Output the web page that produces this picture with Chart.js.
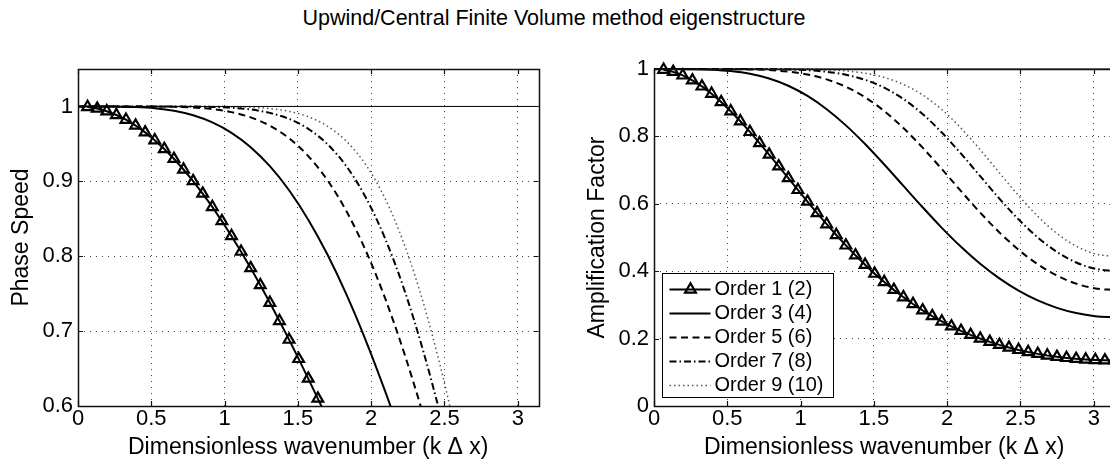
<!DOCTYPE html>
<html>
<head>
<meta charset="utf-8">
<script src="https://cdn.jsdelivr.net/npm/chart.js@4.4.1/dist/chart.umd.min.js"></script>
<style>
  html, body { margin: 0; padding: 0; background: #fff; overflow: hidden; }
  body { width: 1110px; height: 461px; position: relative; }
  #title { position: absolute; left: 0; top: 5px; width: 1108px; text-align: center;
           font: 21.5px 'Liberation Sans', Arial, Helvetica, sans-serif; line-height: 26px; color: #000; }
  canvas { position: absolute; top: 0; }
  #phase { left: 0; }
  #amp { left: 575px; }
</style>
</head>
<body>
<div id="title">Upwind/Central Finite Volume method eigenstructure</div>
<canvas id="phase" width="560" height="461"></canvas>
<canvas id="amp" width="560" height="461"></canvas>
<script>
'use strict';

const FONT = "'Liberation Sans', Arial, Helvetica, sans-serif";

// Wavenumbers (k dx) where the order 1 markers sit
const thetaMarked = [0.0654, 0.1309, 0.1963, 0.2618, 0.3272, 0.3927, 0.4581, 0.5236, 0.5890, 0.6545,
  0.7199, 0.7854, 0.8508, 0.9163, 0.9817, 1.0472, 1.1126, 1.1781, 1.2435, 1.3090, 1.3744, 1.4399,
  1.5053, 1.5708, 1.6362, 1.7017, 1.7671, 1.8326, 1.8980, 1.9635, 2.0289, 2.0944, 2.1598, 2.2253,
  2.2907, 2.3562, 2.4216, 2.4871, 2.5525, 2.6180, 2.6834, 2.7489, 2.8143, 2.8798, 2.9452, 3.0107,
  3.0761, 3.1416];

// Wavenumbers for the higher order curves
const thetaCoarse = [0, 0.1309, 0.2618, 0.3927, 0.5236, 0.6545, 0.7854, 0.9163, 1.0472, 1.1781,
  1.3090, 1.4399, 1.5708, 1.7017, 1.8326, 1.9635, 2.0944, 2.2253, 2.3562, 2.4871, 2.6180, 2.7489,
  2.8798, 3.0107, 3.1416];

// Exact reference line
const xEnds = [0, 3.1416];
const exactLine = [1, 1];

// Phase speed
const phase1 = [0.9993, 0.9972, 0.9936, 0.9886, 0.9823, 0.9745, 0.9654, 0.9549, 0.9432, 0.9301,
  0.9158, 0.9003, 0.8836, 0.8658, 0.8469, 0.8270, 0.8061, 0.7842, 0.7615, 0.7379, 0.7136, 0.6886,
  0.6629, 0.6366, 0.6099, 0.5826, 0.5550, 0.5271, 0.4989, 0.4705, 0.4420, 0.4135, 0.3850, 0.3565,
  0.3282, 0.3001, 0.2723, 0.2448, 0.2177, 0.1910, 0.1648, 0.1392, 0.1142, 0.0899, 0.0662, 0.0434,
  0.0213, 0];
const phase3 = [1, 1.0000, 0.9998, 0.9992, 0.9976, 0.9942, 0.9882, 0.9787, 0.9648, 0.9456, 0.9202,
  0.8881, 0.8488, 0.8022, 0.7483, 0.6874, 0.6202, 0.5477, 0.4709, 0.3911, 0.3098, 0.2285, 0.1488,
  0.0721, 0];
const phase5 = [1, 1, 1.0000, 1.0000, 0.9999, 0.9995, 0.9985, 0.9964, 0.9924, 0.9854, 0.9743,
  0.9575, 0.9337, 0.9015, 0.8596, 0.8073, 0.7443, 0.6707, 0.5875, 0.4961, 0.3985, 0.2972, 0.1951,
  0.0951, 0];
const phase7 = [1, 1, 1, 1, 1.0000, 0.9999, 0.9998, 0.9994, 0.9983, 0.9960, 0.9914, 0.9834, 0.9701,
  0.9496, 0.9197, 0.8784, 0.8240, 0.7556, 0.6728, 0.5767, 0.4694, 0.3538, 0.2341, 0.1146, 0];
const phase9 = [1, 1, 1, 1, 1, 1.0000, 1.0000, 0.9999, 0.9996, 0.9989, 0.9971, 0.9934, 0.9863,
  0.9737, 0.9533, 0.9221, 0.8772, 0.8162, 0.7375, 0.6410, 0.5282, 0.4023, 0.2682, 0.1319, 0];

// Amplification factor
const amp1 = [0.9979, 0.9915, 0.9810, 0.9665, 0.9483, 0.9267, 0.9020, 0.8746, 0.8449, 0.8133,
  0.7802, 0.7461, 0.7113, 0.6762, 0.6412, 0.6065, 0.5725, 0.5394, 0.5074, 0.4766, 0.4471, 0.4192,
  0.3927, 0.3679, 0.3446, 0.3229, 0.3027, 0.2840, 0.2668, 0.2509, 0.2364, 0.2231, 0.2111, 0.2001,
  0.1903, 0.1814, 0.1735, 0.1664, 0.1602, 0.1547, 0.1500, 0.1460, 0.1427, 0.1400, 0.1380, 0.1365,
  0.1356, 0.1353];
const amp3 = [1, 1.0000, 0.9996, 0.9981, 0.9940, 0.9859, 0.9718, 0.9503, 0.9200, 0.8807, 0.8327,
  0.7773, 0.7165, 0.6531, 0.5897, 0.5287, 0.4724, 0.4220, 0.3786, 0.3423, 0.3133, 0.2912, 0.2757,
  0.2666, 0.2636];
const amp5 = [1, 1, 1.0000, 0.9999, 0.9997, 0.9988, 0.9967, 0.9921, 0.9835, 0.9691, 0.9472, 0.9161,
  0.8752, 0.8248, 0.7665, 0.7030, 0.6376, 0.5740, 0.5151, 0.4635, 0.4205, 0.3870, 0.3631, 0.3489,
  0.3442];
const amp7 = [1, 1, 1, 1, 1.0000, 0.9999, 0.9996, 0.9987, 0.9964, 0.9917, 0.9829, 0.9679, 0.9445,
  0.9109, 0.8663, 0.8115, 0.7488, 0.6820, 0.6155, 0.5537, 0.5002, 0.4571, 0.4259, 0.4071, 0.4008];
const amp9 = [1, 1, 1, 1, 1, 1.0000, 1.0000, 0.9998, 0.9992, 0.9977, 0.9943, 0.9875, 0.9749,
  0.9542, 0.9229, 0.8796, 0.8246, 0.7606, 0.6920, 0.6243, 0.5629, 0.5120, 0.4744, 0.4514, 0.4437];

// Legend labels and tick values
const seriesLabels = ['Order 1 (2)', 'Order 3 (4)', 'Order 5 (6)', 'Order 7 (8)', 'Order 9 (10)'];
const waveTicks = [0, 0.5, 1, 1.5, 2, 2.5, 3];
const phaseTicks = [0.6, 0.7, 0.8, 0.9, 1];
const ampTicks = [0, 0.2, 0.4, 0.6, 0.8, 1];

// Line styles, one per order
const lineStyles = [
  { dash: [], width: 2, color: '#000' },
  { dash: [], width: 2, color: '#000' },
  { dash: [7, 4.5], width: 2, color: '#000' },
  { dash: [7, 3, 1.5, 3], width: 2, color: '#000' },
  { dash: [1.5, 3], width: 1.5, color: '#555' }
];

const pts = (xs, ys) => xs.map((x, i) => ({ x: x, y: ys[i] }));

function buildDatasets(xs1, ys1, ysRest, clip) {
  const sets = [{
    data: pts(xEnds, exactLine),
    borderColor: '#000', borderWidth: 1, pointRadius: 0, clip: clip
  }];
  const series = [ys1].concat(ysRest);
  series.forEach((ys, i) => {
    const st = lineStyles[i];
    const marked = i === 0;
    sets.push({
      label: seriesLabels[i],
      data: pts(marked ? xs1 : thetaCoarse, ys),
      borderColor: st.color,
      borderWidth: st.width,
      borderDash: st.dash,
      cubicInterpolationMode: marked ? 'default' : 'monotone',
      tension: 0,
      pointRadius: marked ? 6.2 : 0,
      pointStyle: 'triangle',
      pointBorderWidth: 2.2,
      pointBorderColor: '#000',
      pointBackgroundColor: 'rgba(0,0,0,0)',
      clip: clip
    });
  });
  return sets;
}

// Box round the axes plus tick marks pointing inwards
const axesBox = {
  id: 'axesBox',
  afterDraw(chart) {
    const { ctx, chartArea: a, scales } = chart;
    ctx.save();
    ctx.setLineDash([]);
    ctx.strokeStyle = '#111';
    ctx.lineWidth = 1.2;
    ctx.beginPath();
    scales.x.ticks.forEach(t => {
      const px = Math.round(scales.x.getPixelForValue(t.value)) + 0.5;
      ctx.moveTo(px, a.bottom); ctx.lineTo(px, a.bottom - 5);
      ctx.moveTo(px, a.top); ctx.lineTo(px, a.top + 5);
    });
    scales.y.ticks.forEach(t => {
      const py = Math.round(scales.y.getPixelForValue(t.value)) + 0.5;
      ctx.moveTo(a.left, py); ctx.lineTo(a.left + 5, py);
      ctx.moveTo(a.right, py); ctx.lineTo(a.right - 5, py);
    });
    ctx.stroke();
    ctx.lineWidth = 1.5;
    ctx.strokeRect(Math.round(a.left) + 0.5, Math.round(a.top) + 0.5, Math.round(a.width), Math.round(a.height));
    ctx.restore();
  }
};

// MATLAB style legend inside the lower left corner
const insetLegend = {
  id: 'insetLegend',
  afterDatasetsDraw(chart) {
    const { ctx, chartArea: a } = chart;
    const items = chart.data.datasets.filter(d => d.label);
    const rowH = 24, w = 171, h = items.length * rowH + 4;
    const left = Math.round(a.left) + 8.5;
    const top = Math.round(a.bottom) - 8.5 - h;
    ctx.save();
    ctx.fillStyle = '#fff';
    ctx.fillRect(left, top, w, h);
    ctx.setLineDash([]);
    ctx.strokeStyle = '#000';
    ctx.lineWidth = 1;
    ctx.strokeRect(left, top, w, h);
    ctx.font = '20px ' + FONT;
    ctx.textBaseline = 'middle';
    items.forEach((d, i) => {
      const y = top + 16 + i * rowH;
      ctx.setLineDash(d.borderDash || []);
      ctx.strokeStyle = d.borderColor;
      ctx.lineWidth = d.borderWidth;
      ctx.beginPath();
      ctx.moveTo(left + 7, y);
      ctx.lineTo(left + 48, y);
      ctx.stroke();
      if (d.pointRadius) {
        const r = d.pointRadius, cx = left + 28;
        ctx.setLineDash([]);
        ctx.lineWidth = d.pointBorderWidth;
        ctx.beginPath();
        ctx.moveTo(cx, y - r);
        ctx.lineTo(cx + r * 0.866, y + r * 0.5);
        ctx.lineTo(cx - r * 0.866, y + r * 0.5);
        ctx.closePath();
        ctx.stroke();
      }
      ctx.fillStyle = '#000';
      ctx.fillText(d.label, left + 52, y);
    });
    ctx.restore();
  }
};

function axisOptions(tickList, min, max, titleText, titlePad, fitSize, horizontal) {
  return {
    type: 'linear',
    min: min,
    max: max,
    afterBuildTicks(scale) { scale.ticks = tickList.map(v => ({ value: v })); },
    ticks: {
      color: '#000',
      font: { family: FONT, size: 22 },
      padding: horizontal ? 0 : 5,
      maxRotation: 0,
      autoSkip: false,
      callback: v => String(v)
    },
    grid: { color: 'rgba(0,0,0,0.75)', lineWidth: 1, drawTicks: false },
    border: { display: false, dash: [1, 5] },
    title: {
      display: true,
      text: titleText,
      color: '#000',
      font: { family: FONT, size: 23 },
      padding: titlePad
    },
    afterFit(scale) {
      if (horizontal) scale.height = fitSize; else scale.width = fitSize;
    }
  };
}

function makeChart(id, datasets, yTicks, yMin, yMax, yTitle, yTitlePad, yWidth, padRight, plugins) {
  return new Chart(document.getElementById(id), {
    type: 'line',
    data: { datasets: datasets },
    options: {
      responsive: false,
      animation: false,
      devicePixelRatio: 1,
      events: [],
      layout: { padding: { top: 69, right: padRight, left: 0, bottom: 0 } },
      plugins: { legend: { display: false }, tooltip: { enabled: false } },
      scales: {
        x: axisOptions(waveTicks, 0, 3.1416, 'Dimensionless wavenumber (k \u0394 x)', { top: 0, bottom: 0 }, 55, true),
        y: axisOptions(yTicks, yMin, yMax, yTitle, { top: yTitlePad, bottom: 0 }, yWidth, false)
      }
    },
    plugins: plugins
  });
}

makeChart('phase',
  buildDatasets(thetaMarked, phase1, [phase3, phase5, phase7, phase9], { left: 10, top: 10, right: 10, bottom: 0 }),
  phaseTicks, 0.6, 1.05, 'Phase Speed', 8, 78, 21.5, [axesBox]);

makeChart('amp',
  buildDatasets(thetaMarked, amp1, [amp3, amp5, amp7, amp9], { left: 10, top: 10, right: 0, bottom: 0 }),
  ampTicks, 0, 1, 'Amplification Factor', 9, 79, 20.5, [axesBox, insetLegend]);
</script>
</body>
</html>
